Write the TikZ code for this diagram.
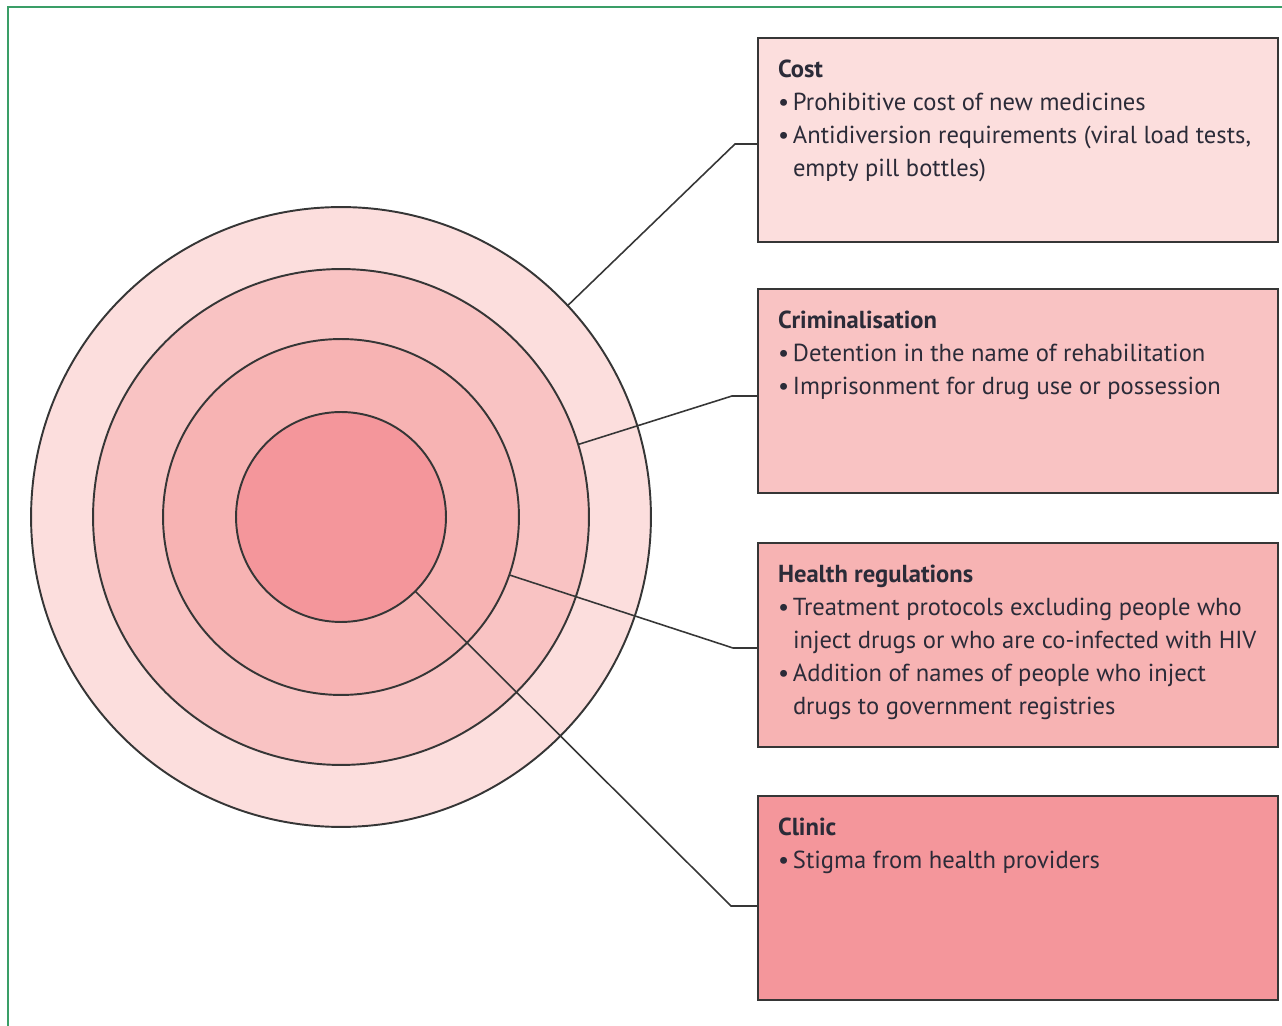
\documentclass[tikz,border=0pt]{standalone}
\usepackage{fontspec}
\setmainfont{PT Sans}
\usetikzlibrary{calc}
\definecolor{ringa}{HTML}{FCDEDD}
\definecolor{ringb}{HTML}{F9C3C3}
\definecolor{ringc}{HTML}{F7B3B3}
\definecolor{ringd}{HTML}{F4969B}
\definecolor{edge}{HTML}{363636}
\definecolor{ink}{HTML}{2B2B38}
\definecolor{frame}{HTML}{3A9E67}
\newcommand{\bul}[1]{\par\hangindent=0.3cm\hangafter=1\makebox[0.3cm][l]{\textbullet}#1}
\newcommand{\panel}[2]{\parbox[t][3.2cm][t]{9.6cm}{\raggedright\textbf{#1}#2}}
\begin{document}
\begin{tikzpicture}[x=0.02cm, y=-0.02cm,
    ring/.style={circle, draw=edge, line width=1.1pt, inner sep=0pt, outer sep=0pt},
    box/.style={rectangle, draw=edge, line width=1.1pt, anchor=north west, inner xsep=0.4cm,
            inner ysep=0.44cm, outer sep=0pt, text=ink, font=\fontsize{14}{18.8}\selectfont},
    link/.style={draw=edge, line width=0.9pt}]

  \useasboundingbox (0,0) rectangle (1282,1026);
  \draw[frame, line width=0.04cm] (8,1040) -- (8,7) -- (1300,7);

  \node[ring, fill=ringa, minimum size=12.4cm] (outer) at (341,517) {};
  \node[ring, fill=ringb, minimum size=9.92cm] (second) at (outer.center) {};
  \node[ring, fill=ringc, minimum size=7.12cm] (third) at (outer.center) {};
  \node[ring, fill=ringd, minimum size=4.2cm] (core) at (outer.center) {};

  \node[box, fill=ringa] (cost) at (758,38) {\panel{Cost}{%
      \bul{Prohibitive cost of new medicines}%
      \bul{Antidiversion requirements (viral load tests,\newline empty pill bottles)}}};
  \node[box, fill=ringb] (crim) at (758,289) {\panel{Criminalisation}{%
      \bul{Detention in the name of rehabilitation}%
      \bul{Imprisonment for drug use or possession}}};
  \node[box, fill=ringc] (health) at (758,543) {\panel{Health regulations}{%
      \bul{Treatment protocols excluding people who\newline inject drugs or who are co-infected with HIV}%
      \bul{Addition of names of people who inject\newline drugs to government registries}}};
  \node[box, fill=ringd] (clinic) at (758,796) {\panel{Clinic}{%
      \bul{Stigma from health providers}}};

  \coordinate (k1) at (735,144);
  \coordinate (k2) at (732,396);
  \coordinate (k3) at (733,648);
  \coordinate (k4) at (731,906);
  \draw[link] (outer.43) -- (k1) -- (k1 -| cost.west);
  \draw[link] (second.17) -- (k2) -- (k2 -| crim.west);
  \draw[link] (third.-19.5) -- (k3) -- (k3 -| health.west);
  \draw[link] (core.-45.7) -- (k4) -- (k4 -| clinic.west);
\end{tikzpicture}
\end{document}
